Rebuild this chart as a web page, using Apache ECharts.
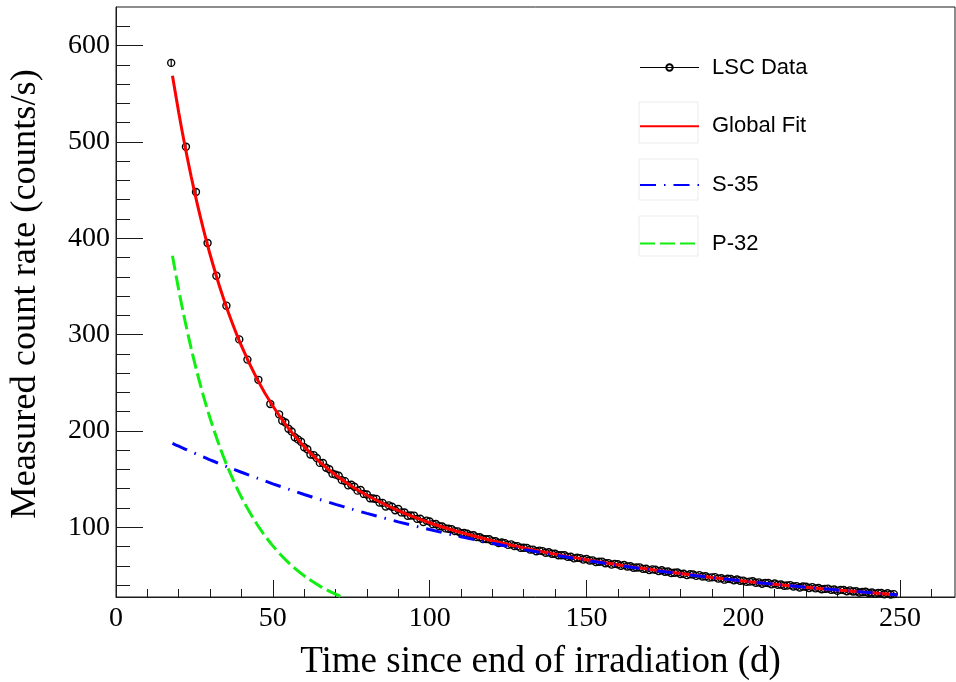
<!DOCTYPE html>
<html>
<head>
<meta charset="utf-8">
<script src="https://cdn.jsdelivr.net/npm/echarts@6/dist/echarts.min.js"></script>
<style>
  html, body { margin: 0; padding: 0; background: #fff; }
  #chart { width: 956px; height: 682px; }
</style>
</head>
<body>
<div id="chart"></div>
<script>
// LSC measurements: days since end of irradiation and count rate (counts/s)
const dataT = [17.6, 22.3, 25.5, 29.2, 32.0, 35.2, 39.3, 41.9, 45.4, 49.2,
  52, 53, 54, 55, 56, 57, 58, 59, 60, 61, 62, 63, 64, 65, 66, 67, 68, 69, 70, 71,
  72, 73, 74, 75, 76, 77, 78, 79, 80, 81, 82, 83, 84, 85, 86, 87, 88, 89, 90, 91,
  92, 93, 94, 95, 96, 97, 98, 99, 100, 101, 102, 103, 104, 105, 106, 107, 108, 109, 110, 111,
  112, 113, 114, 115, 116, 117, 118, 119, 120, 121, 122, 123, 124, 125, 126, 127, 128, 129, 130, 131,
  132, 133, 134, 135, 136, 137, 138, 139, 140, 141, 142, 143, 144, 145, 146, 147, 148, 149, 150, 151,
  152, 153, 154, 155, 156, 157, 158, 159, 160, 161, 162, 163, 164, 165, 166, 167, 168, 169, 170, 171,
  172, 173, 174, 175, 176, 177, 178, 179, 180, 181, 182, 183, 184, 185, 186, 187, 188, 189, 190, 191,
  192, 193, 194, 195, 196, 197, 198, 199, 200, 201, 202, 203, 204, 205, 206, 207, 208, 209, 210, 211,
  212, 213, 214, 215, 216, 217, 218, 219, 220, 221, 222, 223, 224, 225, 226, 227, 228, 229, 230, 231,
  232, 233, 234, 235, 236, 237, 238, 239, 240, 241, 242, 243, 244, 245, 246, 247, 248];
const dataRate = [582, 495, 448, 395, 361, 330, 295, 274, 253, 228,
  217.2, 210.5, 208.8, 202.3, 199.4, 193.4, 191.2, 188.7, 183.0, 180.9, 175.4, 174.9, 171.9, 166.8, 166.7, 161.7, 160.2, 155.5, 154.6, 153.4,
  148.9, 147.9, 143.5, 144.1, 142.1, 138.0, 138.7, 134.6, 134.0, 130.1, 129.9, 129.4, 125.6, 125.3, 121.5, 122.7, 121.3, 117.7, 119.0, 115.4,
  115.3, 111.9, 112.2, 112.1, 108.7, 108.8, 105.4, 106.9, 105.9, 103.2, 103.3, 101.2, 100.8, 98.8, 98.5, 98.1, 96.0, 95.7, 93.7, 94.1,
  93.3, 91.4, 91.7, 89.8, 89.6, 87.8, 87.7, 87.5, 85.6, 85.5, 83.6, 84.1, 83.5, 81.7, 82.2, 80.5, 80.4, 78.7, 78.7, 78.6,
  76.8, 76.8, 75.1, 75.7, 75.2, 73.5, 74.1, 72.5, 72.5, 70.9, 71.0, 71.0, 69.3, 69.4, 67.7, 68.4, 68.0, 66.4, 67.1, 65.5,
  65.6, 64.0, 64.2, 64.3, 62.7, 62.8, 61.2, 62.0, 61.6, 60.1, 60.8, 59.3, 59.5, 58.0, 58.2, 58.3, 56.8, 57.0, 55.5, 56.3,
  55.9, 54.5, 55.3, 53.8, 54.0, 52.5, 52.8, 53.0, 51.5, 51.8, 50.3, 51.2, 50.9, 49.5, 50.3, 48.9, 49.1, 47.7, 48.0, 48.2,
  46.7, 47.1, 45.6, 46.5, 46.3, 44.9, 45.8, 44.4, 44.6, 43.3, 43.6, 43.9, 42.4, 42.8, 41.3, 42.3, 42.1, 40.7, 41.6, 40.3,
  40.6, 39.2, 39.6, 39.9, 38.5, 38.9, 37.5, 38.5, 38.3, 37.0, 37.9, 36.6, 36.9, 35.6, 36.0, 36.3, 35.0, 35.4, 34.0, 35.0,
  34.9, 33.6, 34.5, 33.3, 33.6, 32.3, 32.8, 33.1, 31.8, 32.2, 30.9, 31.9, 31.8, 30.5, 31.5, 30.2, 30.6];
// Statistical uncertainty of the first (sparse) measurements
const earlyErr = [4.0, 3.5, 3.3, 3.1, 3.0, 2.9, 2.7, 2.6, 2.5, 2.4];

// Fitted components
const fitT = [18, 20, 22, 24, 26, 28, 30, 33, 36, 40, 45, 50, 55, 60, 65, 70, 75, 80, 90, 100,
  110, 120, 130, 140, 150, 160, 170, 180, 190, 200, 210, 220, 230, 240, 249];
const globalFit = [568.7, 530.4, 495.5, 463.5, 434.3, 407.6, 383.1, 350.2, 321.4, 288.2, 253.8, 225.8, 202.7, 183.7, 167.7, 154.3, 142.9, 133.2, 117.2, 104.7,
  94.5, 86.0, 78.6, 72.1, 66.3, 61.0, 56.3, 51.9, 47.9, 44.2, 40.8, 37.7, 34.8, 32.2, 29.9];
const s35Fit = [187.0, 184.1, 181.2, 178.3, 175.5, 172.8, 170.0, 166.0, 162.1, 157.1, 151.0, 145.1, 139.5, 134.0, 128.8, 123.8, 119.0, 114.4, 105.6, 97.6,
  90.1, 83.3, 76.9, 71.1, 65.6, 60.6, 56.0, 51.7, 47.8, 44.2, 40.8, 37.7, 34.8, 32.2, 29.9];
const p32T = [18, 20, 22, 24, 26, 28, 30, 33, 36, 40, 45, 50, 55, 60, 65, 70, 73];
const p32Fit = [381.7, 346.4, 314.3, 285.2, 258.8, 234.8, 213.1, 184.2, 159.2, 131.1, 102.8, 80.7, 63.3, 49.6, 38.9, 30.5, 26.4];

// Axis ranges and tick positions
const xRange = [0, 267.5];
const yRange = [27.6, 640];
const xMajor = [0, 50, 100, 150, 200, 250];
const xMinor = [10, 20, 30, 40, 60, 70, 80, 90, 110, 120, 130, 140, 160, 170, 180, 190, 210, 220, 230, 240, 260];
const yMajor = [100, 200, 300, 400, 500, 600];
const yMinor = [40, 60, 80, 120, 140, 160, 180, 220, 240, 260, 280, 320, 340, 360, 380, 420, 440, 460, 480, 520, 540, 560, 580, 620];

const zip = (xs, ys) => xs.map((x, i) => [x, ys[i]]);
const errPoints = earlyErr.map((e, i) => [dataT[i], dataRate[i], e]);

const serif = 'Liberation Serif';
const sans = 'Liberation Sans';

const chart = echarts.init(document.getElementById('chart'), null, { renderer: 'canvas' });

const tickStyle = { color: '#1a1a1a', width: 1 };
const boxStyle = { fill: 'none', stroke: '#ebebeb', lineWidth: 1 };

chart.setOption({
  animation: false,
  backgroundColor: '#ffffff',
  grid: {
    left: 116, right: 1, top: 7, bottom: 85,
    show: true, borderColor: '#1a1a1a', borderWidth: 1,
    backgroundColor: 'transparent',
    containLabel: false,
    outerBoundsMode: 'none'
  },
  xAxis: [{
    type: 'value', min: xRange[0], max: xRange[1],
    name: 'Time since end of irradiation (d)',
    nameLocation: 'middle', nameGap: 47,
    nameTextStyle: { fontFamily: serif, fontSize: 37, color: '#000', padding: [0, 0, 0, 10] },
    axisLine: { show: true, onZero: false, lineStyle: { color: '#1a1a1a', width: 1 } },
    axisTick: { show: true, inside: true, length: 17, customValues: xMajor, lineStyle: tickStyle },
    axisLabel: { customValues: xMajor, margin: 8, fontFamily: serif, fontSize: 28, color: '#000' },
    splitLine: { show: false }
  }, {
    type: 'value', min: xRange[0], max: xRange[1], position: 'bottom',
    axisLine: { show: false },
    axisTick: { show: true, inside: true, length: 8, customValues: xMinor, lineStyle: tickStyle },
    axisLabel: { show: false },
    splitLine: { show: false }
  }],
  yAxis: [{
    type: 'value', min: yRange[0], max: yRange[1],
    name: 'Measured count rate (counts/s)',
    nameLocation: 'middle', nameGap: 73, nameRotate: 90,
    nameTextStyle: { fontFamily: serif, fontSize: 36.4, color: '#000', padding: [0, 0, 0, 16] },
    axisLine: { show: true, onZero: false, lineStyle: { color: '#1a1a1a', width: 1 } },
    axisTick: { show: true, inside: true, length: 27, customValues: yMajor, lineStyle: tickStyle },
    axisLabel: { customValues: yMajor, margin: 6, fontFamily: serif, fontSize: 28, color: '#000' },
    splitLine: { show: false }
  }, {
    type: 'value', min: yRange[0], max: yRange[1], position: 'left',
    axisLine: { show: false },
    axisTick: { show: true, inside: true, length: 14, customValues: yMinor, lineStyle: tickStyle },
    axisLabel: { show: false },
    splitLine: { show: false }
  }],
  legend: {
    orient: 'vertical',
    left: 639, top: 55.5, padding: 0,
    itemWidth: 59, itemHeight: 8, itemGap: 34.7,
    selectedMode: false,
    textStyle: { fontFamily: sans, fontSize: 22, color: '#000', padding: [2, 0, 0, 8], lineHeight: 22 },
    data: [
      { name: 'LSC Data', lineStyle: { opacity: 1, width: 1.2, color: '#000', type: 'solid' } },
      { name: 'Global Fit', itemStyle: { opacity: 0 } },
      { name: 'S-35', itemStyle: { opacity: 0 } },
      { name: 'P-32', itemStyle: { opacity: 0 } }
    ]
  },
  graphic: [
    { type: 'rect', x: 639, y: 102, shape: { width: 59, height: 41 }, style: boxStyle, silent: true, z: 0 },
    { type: 'rect', x: 639, y: 159, shape: { width: 59, height: 41 }, style: boxStyle, silent: true, z: 0 },
    { type: 'rect', x: 639, y: 216, shape: { width: 59, height: 40 }, style: boxStyle, silent: true, z: 0 }
  ],
  series: [
    {
      name: 'LSC Data', type: 'line', z: 2,
      data: zip(dataT, dataRate),
      symbol: 'circle', symbolSize: 7, showSymbol: true,
      itemStyle: { color: 'rgba(255,255,255,0)', borderColor: '#000', borderWidth: 1.4 },
      lineStyle: { opacity: 0, width: 1.2, color: '#000' }
    },
    {
      type: 'custom', z: 2,
      data: errPoints,
      encode: { x: 0, y: 1 },
      renderItem: (params, api) => {
        const x = api.value(0), y = api.value(1), e = api.value(2);
        const lo = api.coord([x, y - e]);
        const hi = api.coord([x, y + e]);
        return {
          type: 'line',
          shape: { x1: lo[0], y1: lo[1], x2: hi[0], y2: hi[1] },
          style: { stroke: '#000', lineWidth: 1.2 }
        };
      }
    },
    {
      name: 'Global Fit', type: 'line', z: 3,
      data: zip(fitT, globalFit), smooth: 0.3,
      showSymbol: false, symbol: 'none',
      itemStyle: { color: '#ff0000' },
      lineStyle: { color: '#ff0000', width: 3 }
    },
    {
      name: 'S-35', type: 'line', z: 4,
      data: zip(fitT, s35Fit), smooth: 0.3,
      showSymbol: false, symbol: 'none',
      itemStyle: { color: '#0000ff' },
      lineStyle: { color: '#0000ff', width: 3, type: [16, 8, 1.5, 8] }
    },
    {
      name: 'P-32', type: 'line', z: 5,
      data: zip(p32T, p32Fit), smooth: 0.3,
      showSymbol: false, symbol: 'none',
      itemStyle: { color: '#11ee11' },
      lineStyle: { color: '#11ee11', width: 3, type: [15, 5] }
    }
  ]
});
</script>
</body>
</html>
